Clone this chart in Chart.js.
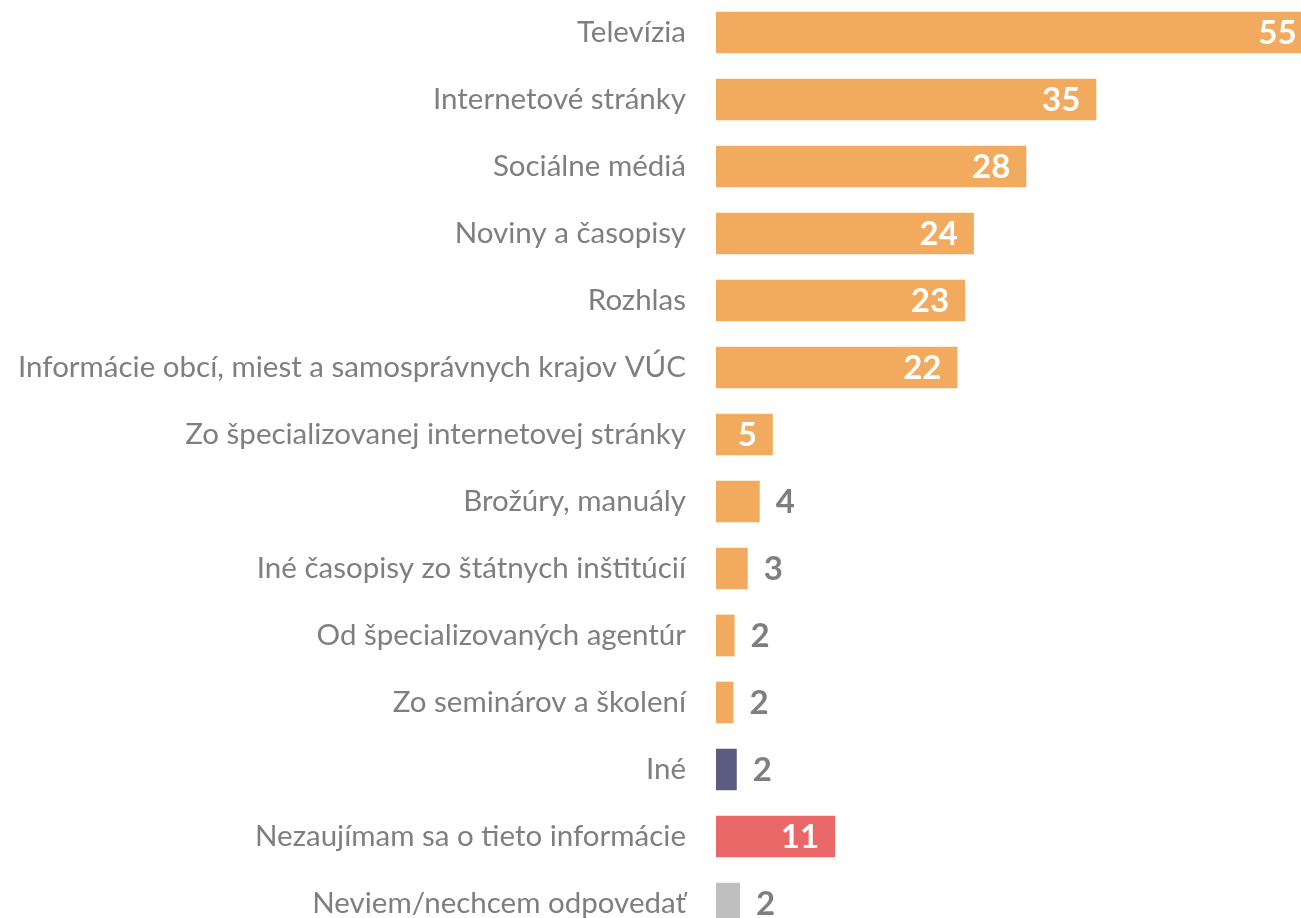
<!DOCTYPE html>
<html>
<head>
<meta charset="utf-8">
<script src="https://cdn.jsdelivr.net/npm/chart.js@4"></script>
<style>
  html, body { margin: 0; padding: 0; background: #fff; overflow: hidden; width: 1301px; height: 918px; }
  #wrap { position: absolute; left: 0; top: -1.4px; width: 1317px; height: 938px; }
</style>
</head>
<body>
<div id="wrap"><canvas id="barChart" width="1317" height="938"></canvas></div>
<script>
const categories = [
  "Televízia",
  "Internetové stránky",
  "Sociálne médiá",
  "Noviny a časopisy",
  "Rozhlas",
  "Informácie obcí, miest a samosprávnych krajov VÚC",
  "Zo špecializovanej internetovej stránky",
  "Brožúry, manuály",
  "Iné časopisy zo štátnych inštitúcií",
  "Od špecializovaných agentúr",
  "Zo seminárov a školení",
  "Iné",
  "Nezaujímam sa o tieto informácie",
  "Neviem/nechcem odpovedať",
];
const values = [54.6, 34.8, 28.4, 23.6, 22.8, 22.1, 5.2, 4.0, 2.9, 1.7, 1.6, 1.9, 10.9, 2.2];
const barColors = [
  "#F2AB5E", "#F2AB5E", "#F2AB5E", "#F2AB5E", "#F2AB5E", "#F2AB5E", "#F2AB5E",
  "#F2AB5E", "#F2AB5E", "#F2AB5E", "#F2AB5E", "#5C5C82", "#EA6767", "#BFBFBF",
];

// value labels: white inside the long bars, grey beside the short ones
const valueLabels = {
  id: "valueLabels",
  afterDatasetsDraw(chart) {
    const ctx = chart.ctx;
    const meta = chart.getDatasetMeta(0);
    ctx.save();
    ctx.font = "bold 33px Lato";
    ctx.textBaseline = "middle";
    meta.data.forEach((bar, i) => {
      const v = values[i];
      const txt = String(Math.round(v));
      if (v >= 5) {
        ctx.fillStyle = "#ffffff";
        ctx.textAlign = "right";
        ctx.fillText(txt, bar.x - 16, bar.y + 1);
      } else {
        ctx.fillStyle = "#7f7f7f";
        ctx.textAlign = "left";
        ctx.fillText(txt, bar.x + 16, bar.y + 1);
      }
    });
    ctx.restore();
  },
};

const ctxBar = document.getElementById("barChart").getContext("2d");
new Chart(ctxBar, {
  type: "bar",
  data: {
    labels: categories,
    datasets: [
      {
        data: values,
        backgroundColor: barColors,
        borderWidth: 0,
        categoryPercentage: 1,
        barPercentage: 0.622,
      },
    ],
  },
  options: {
    indexAxis: "y",
    responsive: false,
    animation: false,
    layout: { padding: 0 },
    plugins: {
      legend: { display: false },
      tooltip: { enabled: false },
    },
    scales: {
      x: {
        display: false,
        min: 0,
        max: 55,
      },
      y: {
        grid: { display: false, drawTicks: false },
        border: { display: false },
        ticks: {
          color: "#7f7f7f",
          padding: 30,
          font: { family: "Lato", size: 29.5 },
        },
        afterFit(scale) {
          scale.width = 716;
          scale.paddingTop = 0;
          scale.paddingBottom = 0;
        },
      },
    },
  },
  plugins: [valueLabels],
});
</script>
</body>
</html>
